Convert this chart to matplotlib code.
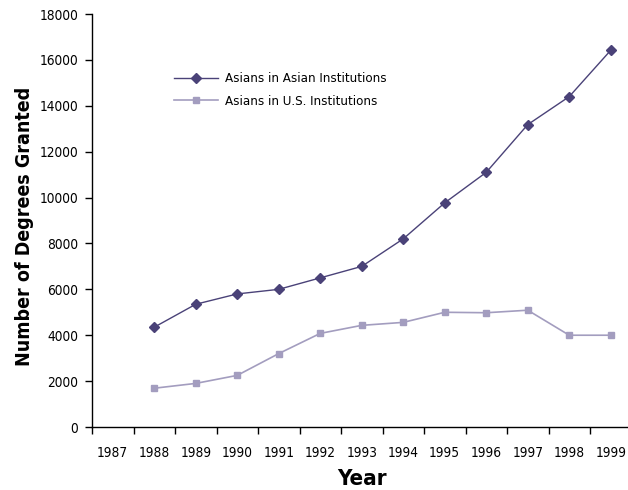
import numpy as np
import matplotlib
matplotlib.use("Agg")
import matplotlib.pyplot as plt

years = ["1987", "1988", "1989", "1990", "1991", "1992", "1993",
         "1994", "1995", "1996", "1997", "1998", "1999"]
asian_inst = [np.nan, 4350, 5350, 5800, 6000, 6500, 7000,
              8200, 9770, 11100, 13180, 14400, 16420]
us_inst = [np.nan, 1690, 1900, 2250, 3200, 4080, 4430,
           4560, 5000, 4980, 5090, 4000, 4000]
yticks = [0, 2000, 4000, 6000, 8000, 10000, 12000, 14000, 16000, 18000]

plt.rcParams['font.family'] = ['DejaVu Sans']
plt.rcParams['font.stretch'] = 'condensed'

fig = plt.figure(figsize=(6.28, 4.90), dpi=100)
ax = fig.add_axes([92/628, 63/490, (631.5-92)/628, (427-14)/490])

x = np.arange(len(years))
c1 = '#4a4278'
c2 = '#a39dbf'
ax.plot(x, asian_inst, color=c1, lw=1.0, marker='D', ms=4.6, mfc=c1, mec=c1,
        label='Asians in Asian Institutions')
ax.plot(x, us_inst, color=c2, lw=1.2, marker='s', ms=5.0, mfc=c2, mec=c2,
        label='Asians in U.S. Institutions')

ax.set_xlim(-0.5, len(years) - 0.5)
ax.set_ylim(0, 18000)
ax.set_yticks(yticks)
ax.set_yticklabels([str(v) for v in yticks], fontsize=9.8, stretch='condensed')
ax.set_xticks(np.arange(len(years) + 1) - 0.5)
ax.set_xticklabels([])
ax.set_xticks(x, minor=True)
ax.set_xticklabels(years, minor=True, fontsize=9.8, stretch='condensed')
ax.tick_params(axis='x', which='minor', length=0, pad=14)
ax.tick_params(axis='x', which='major', length=5, width=1, direction='out')
ax.tick_params(axis='y', length=5, width=1, direction='out', pad=5)

for s in ['top', 'right']:
    ax.spines[s].set_visible(False)
for s in ['left', 'bottom']:
    ax.spines[s].set_linewidth(1.0)

ax.set_xlabel('Year', fontsize=16, fontweight='bold', stretch='condensed', labelpad=6)
ax.set_ylabel('Number of Degrees Granted', fontsize=14, fontweight='bold',
              stretch='condensed')
ax.yaxis.set_label_coords(-0.108, 0.486)

leg = ax.legend(loc='upper left', bbox_to_anchor=(0.13, 0.888), frameon=False,
                prop={'size': 9.5, 'stretch': 'condensed'},
                handlelength=3.3, handletextpad=0.6, labelspacing=0.75)

fig.savefig('out.png', dpi=100)
